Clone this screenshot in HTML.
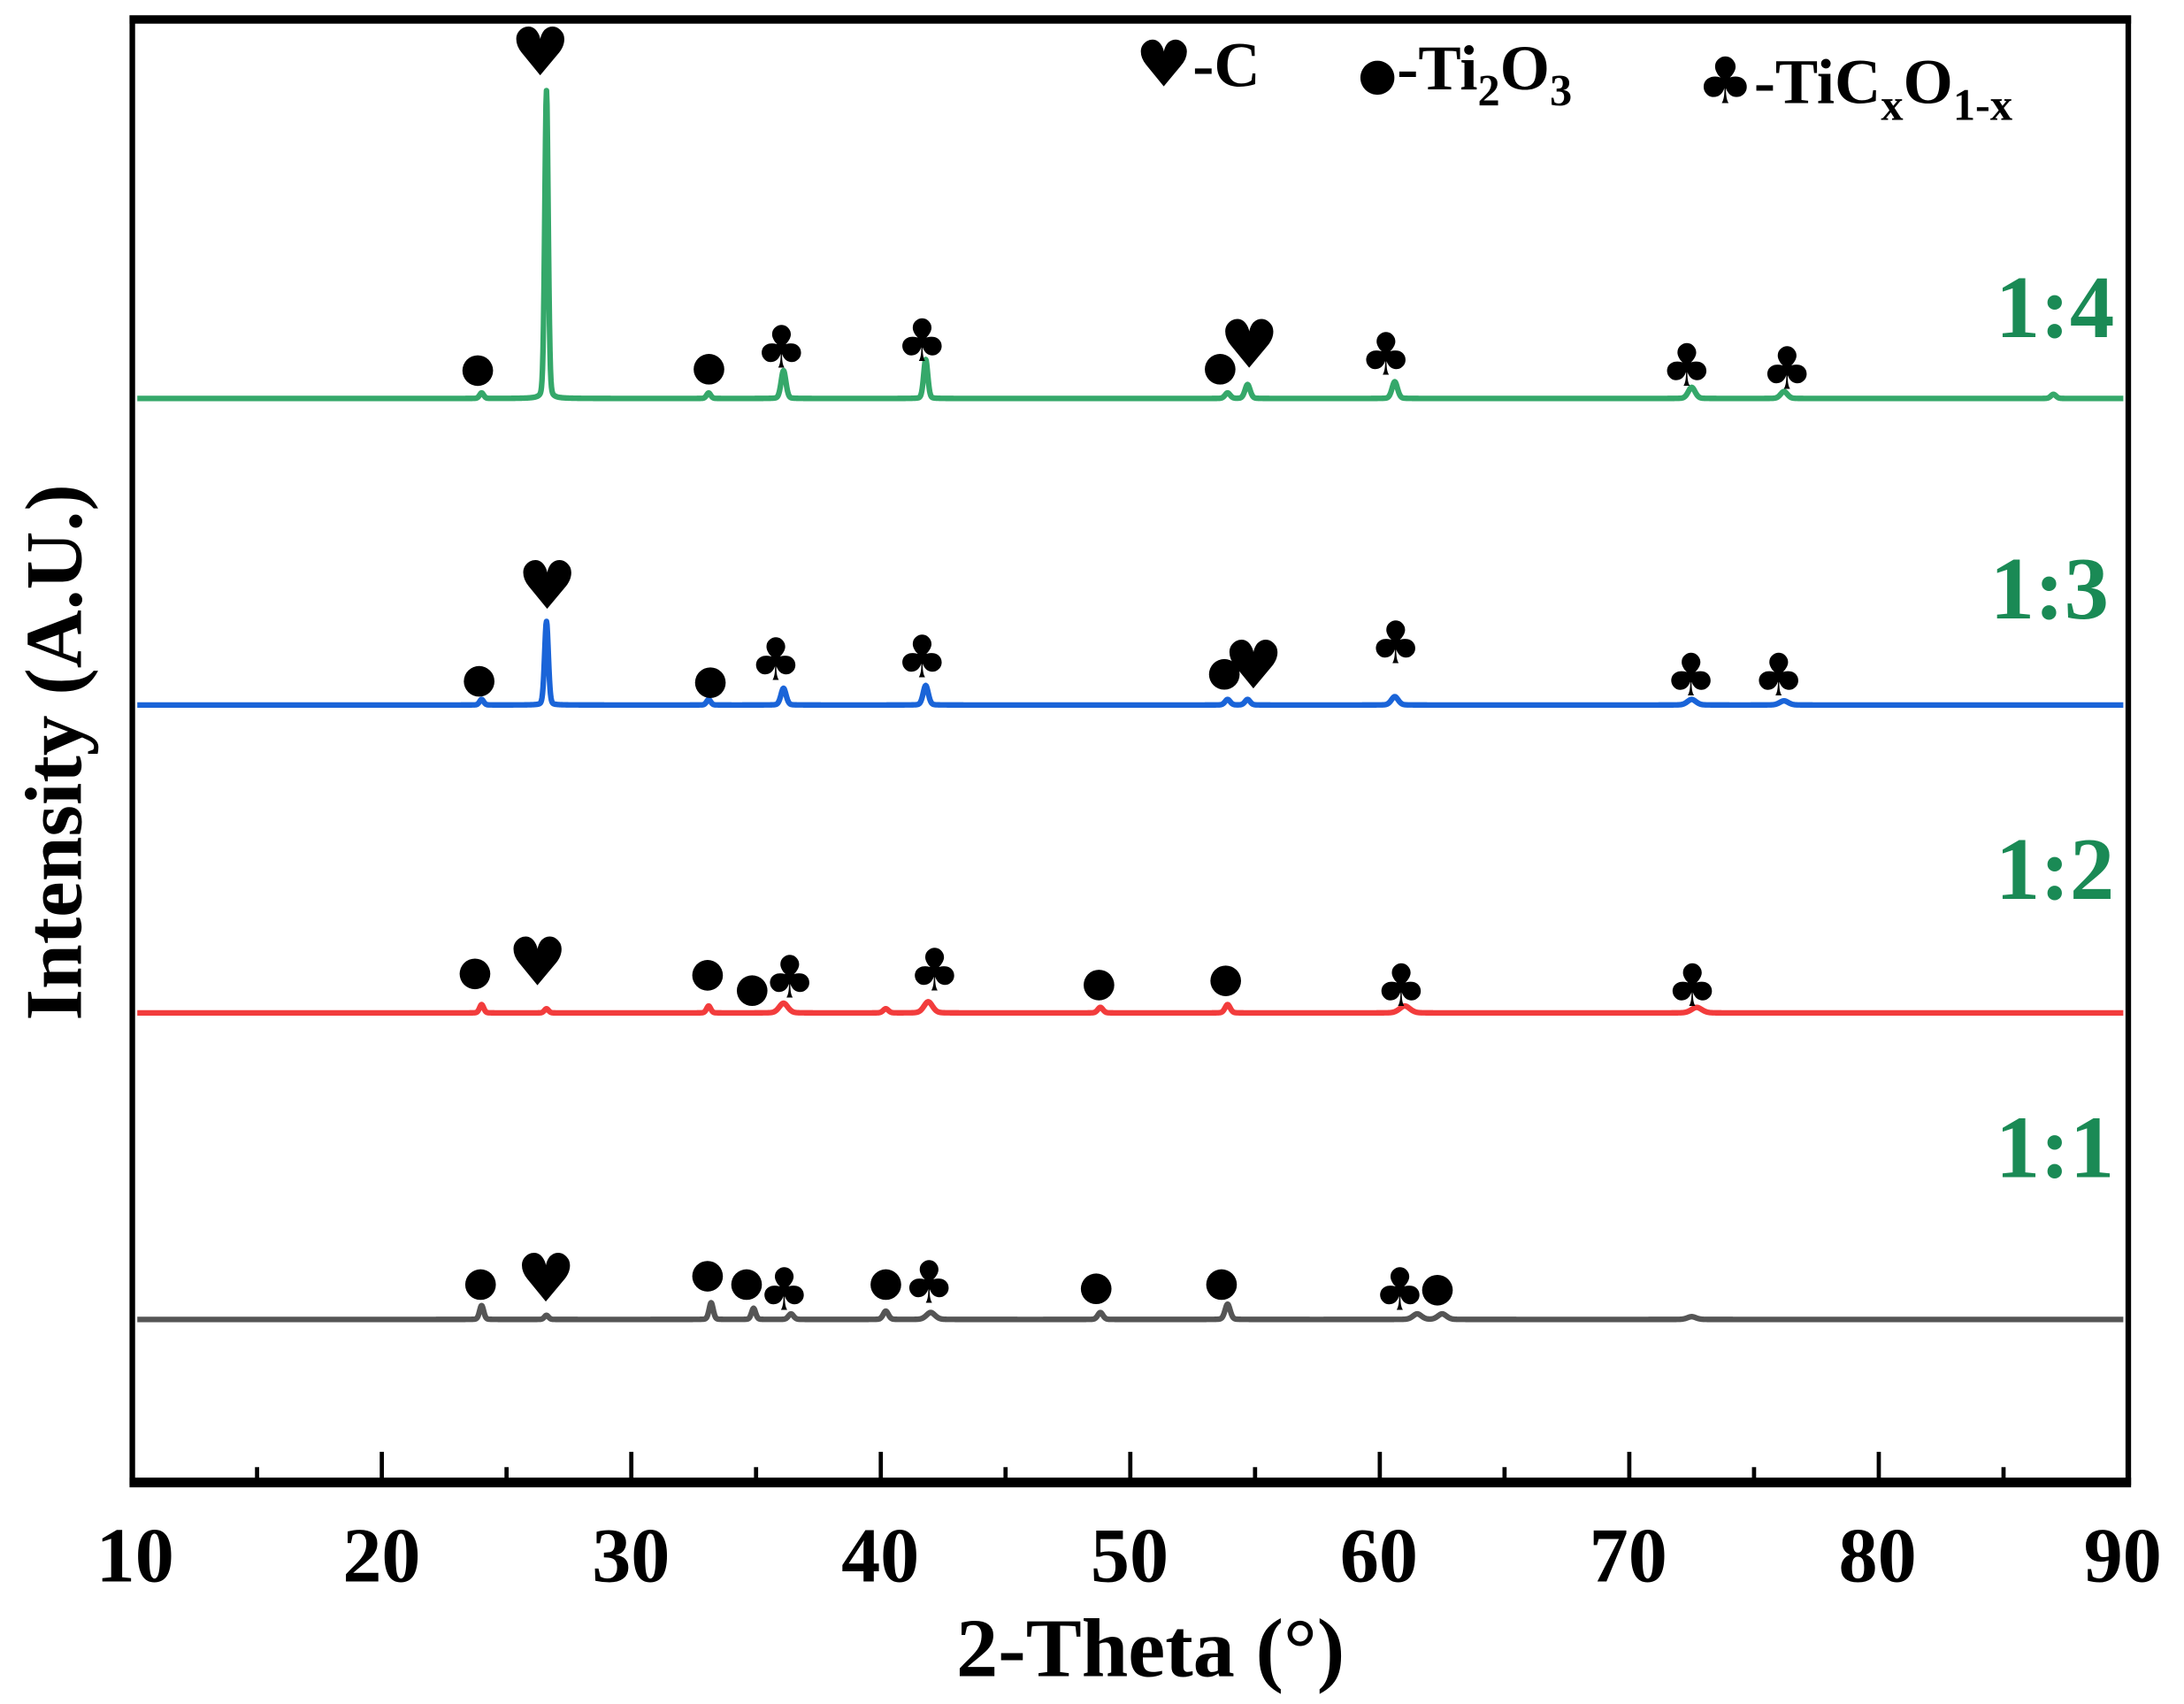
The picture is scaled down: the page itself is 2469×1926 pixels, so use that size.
<!DOCTYPE html>
<html><head><meta charset="utf-8">
<style>
html,body{margin:0;padding:0;background:#fff;}
svg{display:block;}
text{font-family:"Liberation Serif",serif;font-weight:bold;}
.sym{font-family:"DejaVu Sans",sans-serif;font-weight:normal;}
</style></head>
<body>
<svg id="s" width="2469" height="1926" viewBox="0 0 1568 1223" preserveAspectRatio="none" xmlns="http://www.w3.org/2000/svg">
<rect x="0" y="0" width="1568" height="1223" fill="#fff"/>
<g id="series"></g>
<rect x="95" y="13" width="1433" height="1051" fill="none" stroke="#000" stroke-width="4"/>
<line x1="93" y1="14" x2="1530" y2="14" stroke="#000" stroke-width="6"/>
<line x1="93" y1="1064" x2="1530" y2="1064" stroke="#000" stroke-width="7"/>
<g id="ticks" stroke="#000" stroke-width="3"></g>
<g font-size="56" text-anchor="middle">
<text x="97" y="1135">10</text><text x="274" y="1135">20</text><text x="453" y="1135">30</text>
<text x="632" y="1135">40</text><text x="811" y="1135">50</text><text x="990" y="1135">60</text>
<text x="1169" y="1135">70</text><text x="1348" y="1135">80</text><text x="1524" y="1135">90</text>
</g>
<text x="826" y="1203" font-size="60" text-anchor="middle">2-Theta (°)</text>
<text transform="translate(58,540) rotate(-90)" font-size="58" text-anchor="middle">Intensity (A.U.)</text>
<g fill="#1a8a55" font-size="64" text-anchor="end">
<text x="1518" y="242">1:4</text><text x="1514" y="444">1:3</text>
<text x="1518" y="645">1:2</text><text x="1518" y="845">1:1</text>
</g>
<g font-size="46">
<text x="815" y="62"><tspan class="sym">♥</tspan>-C</text>
<text x="975" y="64"><tspan class="sym" font-size="32">●</tspan>-Ti<tspan font-size="32" dy="12">2</tspan><tspan dy="-12">O</tspan><tspan font-size="32" dy="12">3</tspan></text>
<text x="1218" y="74"><tspan class="sym">♣</tspan>-TiC<tspan font-size="32" dy="12">x</tspan><tspan dy="-12">O</tspan><tspan font-size="32" dy="12">1-x</tspan></text>
</g>
<g id="marks"></g>
</svg>
<script>
var NS="http://www.w3.org/2000/svg";
function X(t){return 95+(t-10)*17.9125;}
var ser=[
 {c:"#35a86a",b:286,p:[[24,4,.12],[26.6,221,.1],[33.1,4,.12],[36.1,20,.14],[41.8,28,.12],[53.9,4,.15],[54.7,10,.15],[60.6,12,.16],[72.5,8,.2],[76.2,5,.2],[87,3,.15]]},
 {c:"#1a64d8",b:506,p:[[24,4,.12],[26.6,60,.11],[33.1,4,.12],[36.1,12,.15],[41.8,14,.15],[53.9,4,.15],[54.7,4,.15],[60.6,6,.2],[72.5,4,.25],[76.2,3,.25]]},
 {c:"#f23c3c",b:727,p:[[24,6,.12],[26.6,3,.12],[33.1,5,.12],[36.1,7,.25],[40.2,3,.15],[41.9,8,.25],[48.8,4,.15],[53.9,6,.15],[61,5,.3],[72.7,4,.3]]},
 {c:"#555555",b:947,p:[[24,10,.12],[26.6,3,.12],[33.2,12,.12],[34.9,8,.12],[36.4,4,.15],[40.2,6,.15],[42,5,.25],[48.8,5,.15],[53.9,11,.15],[61.5,4,.25],[62.5,4,.25],[72.5,2,.25]]}
];
var g=document.getElementById("series");
ser.forEach(function(s){
 var d="";
 for(var t=10.2;t<=89.8;t+=0.02){
  var y=s.b;
  s.p.forEach(function(p){var u=(t-p[0])/p[2];y-=p[1]*(0.8*Math.exp(-u*u)+0.2/(1+u*u*2));});
  d+=(d?"L":"M")+X(t).toFixed(2)+","+y.toFixed(2);
 }
 var e=document.createElementNS(NS,"path");e.setAttribute("d",d);e.setAttribute("fill","none");
 e.setAttribute("stroke",s.c);e.setAttribute("stroke-width","4");e.setAttribute("stroke-linejoin","round");g.appendChild(e);
});
var tk=document.getElementById("ticks");
for(var t=15;t<=85;t+=5){var l=document.createElementNS(NS,"line");var x=X(t);
 l.setAttribute("x1",x);l.setAttribute("x2",x);l.setAttribute("y1",t%10==0?1042:1053);l.setAttribute("y2",1062);tk.appendChild(l);}
var m=[
 ["h",388,40],["o",343,266],["o",509,265],["c",561,250],["c",662,245],["o",876,265],["h",897,250],["c",995,255],["c",1211,263],["c",1283,265],
 ["h",393,423],["o",344,489],["o",510,490],["c",557,474],["c",662,472],["o",879,484],["h",900,480],["c",1002,462],["c",1214,485],["c",1277,485],
 ["o",341,699],["h",386,693],["o",508,700],["o",540,711],["c",567,702],["c",671,697],["o",789,707],["o",880,704],["c",1006,708],["c",1215,708],
 ["o",345,922],["h",392,920],["o",508,916],["o",536,922],["c",563,926],["o",636,922],["c",667,921],["o",787,925],["o",877,922],["c",1005,926],["o",1032,926]
];
var mg=document.getElementById("marks");
m.forEach(function(a){
 if(a[0]=="o"){var e=document.createElementNS(NS,"ellipse");e.setAttribute("cx",a[1]);e.setAttribute("cy",a[2]);
  e.setAttribute("rx",11);e.setAttribute("ry",11);mg.appendChild(e);}
 else{var e=document.createElementNS(NS,"text");e.setAttribute("class","sym");e.setAttribute("x",a[1]);e.setAttribute("y",a[2]+14);
  e.setAttribute("text-anchor","middle");e.setAttribute("font-size",a[0]=="h"?48:42);e.textContent=a[0]=="h"?"♥":"♣";mg.appendChild(e);}
});
</script>
</body></html>
